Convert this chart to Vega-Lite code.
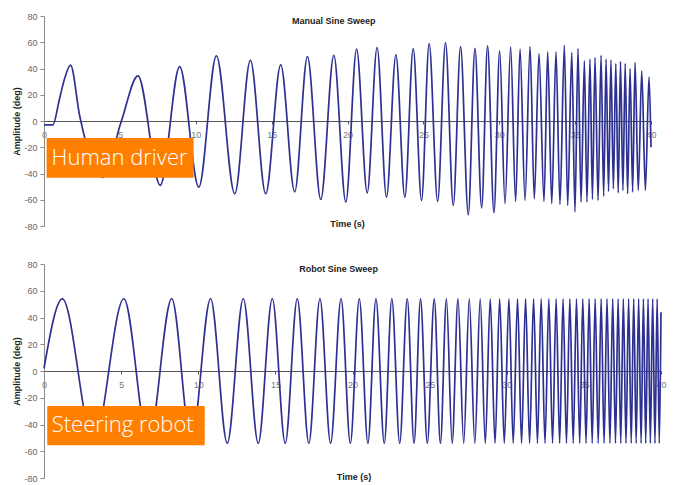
{
  "$schema": "https://vega.github.io/schema/vega-lite/v6.json",
  "background": "white",
  "padding": {"left": 12, "top": 12, "right": 5, "bottom": 2},
  "spacing": 38,
  "bounds": "flush",
  "config": {
    "view": {"stroke": null},
    "font": "Liberation Sans",
    "axisY": {
      "grid": false,
      "domainColor": "#8a8a8a",
      "tickColor": "#8a8a8a",
      "tickSize": 4,
      "labelColor": "#666666",
      "labelFontSize": 9,
      "labelPadding": 3,
      "titleFontSize": 9,
      "titleFontWeight": "bold",
      "titleColor": "#222222",
      "titlePadding": 2
    },
    "axisX": {
      "grid": false,
      "domainColor": "#555555",
      "tickColor": "#555555",
      "tickSize": 3,
      "labelColor": "#777777",
      "labelFontSize": 9,
      "labelPadding": 6,
      "labelFlush": false
    }
  },
  "datasets": {
    "human": [
      {"t": 0, "v": -3}, {"t": 0.58, "v": -3}, {"t": 1.02, "v": 16.7}, {"t": 1.35, "v": 32}, {"t": 1.75, "v": 42.5},
      {"t": 2.35, "v": 4}, {"t": 3.86, "v": -43}, {"t": 5.1, "v": 0}, {"t": 6.19, "v": 34.4}, {"t": 7.66, "v": -49},
      {"t": 8.94, "v": 41.5}, {"t": 10.2, "v": -50.4}, {"t": 11.36, "v": 49.6}, {"t": 12.57, "v": -55.4}, {"t": 13.6, "v": 46.3},
      {"t": 14.61, "v": -55.4}, {"t": 15.6, "v": 42.8}, {"t": 16.52, "v": -54}, {"t": 17.36, "v": 49}, {"t": 18.24, "v": -59.7},
      {"t": 19.1, "v": 50}, {"t": 19.89, "v": -61.7}, {"t": 20.6, "v": 54.7}, {"t": 21.3, "v": -54.7}, {"t": 21.95, "v": 56},
      {"t": 22.57, "v": -58}, {"t": 23.19, "v": 50.4}, {"t": 23.78, "v": -58}, {"t": 24.33, "v": 55.2}, {"t": 24.88, "v": -60.5},
      {"t": 25.38, "v": 59}, {"t": 25.94, "v": -61.3}, {"t": 26.46, "v": 59.8}, {"t": 26.97, "v": -64.3}, {"t": 27.45, "v": 56.7},
      {"t": 27.96, "v": -71.4}, {"t": 28.4, "v": 55.4}, {"t": 28.84, "v": -66.3}, {"t": 29.23, "v": 57.2}, {"t": 29.65, "v": -69.9},
      {"t": 30.03, "v": 53.4}, {"t": 30.38, "v": -63}, {"t": 30.75, "v": 56.4}, {"t": 31.08, "v": -61.3}, {"t": 31.37, "v": 54.7},
      {"t": 31.7, "v": -60.5}, {"t": 32.03, "v": 56.7}, {"t": 32.31, "v": -59.2}, {"t": 32.62, "v": 51.4}, {"t": 32.95, "v": -61.3},
      {"t": 33.19, "v": 52.6}, {"t": 33.46, "v": -63}, {"t": 33.74, "v": 52.6}, {"t": 34.0, "v": -63.5}, {"t": 34.29, "v": 57.7},
      {"t": 34.51, "v": -64.3}, {"t": 34.78, "v": 52.2}, {"t": 34.99, "v": -69.3}, {"t": 35.19, "v": 55.2}, {"t": 35.39, "v": -61.7},
      {"t": 35.61, "v": 45.8}, {"t": 35.78, "v": -61.7}, {"t": 35.98, "v": 47.1}, {"t": 36.14, "v": -59.7}, {"t": 36.31, "v": 48.4},
      {"t": 36.51, "v": -60.5}, {"t": 36.71, "v": 50.1}, {"t": 36.88, "v": -57.2}, {"t": 37.04, "v": 47.1}, {"t": 37.2, "v": -53.7},
      {"t": 37.36, "v": 46.5}, {"t": 37.52, "v": -51.6}, {"t": 37.68, "v": 43.8}, {"t": 37.84, "v": -54.7}, {"t": 37.99, "v": 45.3},
      {"t": 38.15, "v": -52.9}, {"t": 38.3, "v": 43.8}, {"t": 38.46, "v": -55.4}, {"t": 38.62, "v": 40}, {"t": 38.79, "v": -54.1},
      {"t": 38.95, "v": 44.6}, {"t": 39.16, "v": -52.9}, {"t": 39.39, "v": 38.2}, {"t": 39.63, "v": -52.9}, {"t": 39.87, "v": 33.6},
      {"t": 40, "v": -20}
    ],
    "robot": [
      {"t": 0, "v": 2}, {"t": 1.19, "v": 54}, {"t": 3.22, "v": -54}, {"t": 5.18, "v": 54}, {"t": 6.77, "v": -54},
      {"t": 8.28, "v": 54}, {"t": 9.55, "v": -54}, {"t": 10.8, "v": 54}, {"t": 11.88, "v": -54}, {"t": 12.92, "v": 54},
      {"t": 13.89, "v": -54}, {"t": 14.8, "v": 54}, {"t": 15.64, "v": -54}, {"t": 16.42, "v": 54}, {"t": 17.17, "v": -54},
      {"t": 17.89, "v": 54}, {"t": 18.58, "v": -54}, {"t": 19.26, "v": 54}, {"t": 19.86, "v": -54}, {"t": 20.44, "v": 54},
      {"t": 21.0, "v": -54}, {"t": 21.52, "v": 54}, {"t": 22.06, "v": -54}, {"t": 22.55, "v": 54}, {"t": 23.06, "v": -54},
      {"t": 23.55, "v": 54}, {"t": 23.99, "v": -54}, {"t": 24.41, "v": 54}, {"t": 24.85, "v": -54}, {"t": 25.3, "v": 54},
      {"t": 25.7, "v": -54}, {"t": 26.09, "v": 54}, {"t": 26.46, "v": -54}, {"t": 26.84, "v": 54}, {"t": 27.21, "v": -54},
      {"t": 27.57, "v": 54}, {"t": 27.93, "v": -54}, {"t": 28.28, "v": 54}, {"t": 28.61, "v": -54}, {"t": 28.93, "v": 54},
      {"t": 29.24, "v": -54}, {"t": 29.54, "v": 54}, {"t": 29.84, "v": -54}, {"t": 30.14, "v": 54}, {"t": 30.42, "v": -54},
      {"t": 30.7, "v": 54}, {"t": 30.96, "v": -54}, {"t": 31.22, "v": 54}, {"t": 31.48, "v": -54}, {"t": 31.74, "v": 54},
      {"t": 31.99, "v": -54}, {"t": 32.23, "v": 54}, {"t": 32.48, "v": -54}, {"t": 32.73, "v": 54}, {"t": 32.97, "v": -54},
      {"t": 33.2, "v": 54}, {"t": 33.43, "v": -54}, {"t": 33.65, "v": 54}, {"t": 33.87, "v": -54}, {"t": 34.09, "v": 54},
      {"t": 34.31, "v": -54}, {"t": 34.52, "v": 54}, {"t": 34.73, "v": -54}, {"t": 34.93, "v": 54}, {"t": 35.14, "v": -54},
      {"t": 35.34, "v": 54}, {"t": 35.54, "v": -54}, {"t": 35.73, "v": 54}, {"t": 35.93, "v": -54}, {"t": 36.12, "v": 54},
      {"t": 36.31, "v": -54}, {"t": 36.5, "v": 54}, {"t": 36.69, "v": -54}, {"t": 36.87, "v": 54}, {"t": 37.05, "v": -54},
      {"t": 37.22, "v": 54}, {"t": 37.39, "v": -54}, {"t": 37.56, "v": 54}, {"t": 37.73, "v": -54}, {"t": 37.9, "v": 54},
      {"t": 38.07, "v": -54}, {"t": 38.23, "v": 54}, {"t": 38.39, "v": -54}, {"t": 38.55, "v": 54}, {"t": 38.71, "v": -54},
      {"t": 38.86, "v": 54}, {"t": 39.01, "v": -54}, {"t": 39.16, "v": 54}, {"t": 39.31, "v": -54}, {"t": 39.46, "v": 54},
      {"t": 39.61, "v": -54}, {"t": 39.75, "v": 54}, {"t": 39.89, "v": -54}, {"t": 40, "v": 44}
    ]
  },
  "vconcat": [
    {
      "width": 607,
      "height": 210,
      "encoding": {
        "x": {"type": "quantitative", "scale": {"domain": [0, 40], "nice": false, "zero": false},
              "axis": {"offset": -105, "values": [0, 5, 10, 15, 20, 25, 30, 35, 40], "title": null}},
        "y": {"type": "quantitative", "scale": {"domain": [-80, 80], "nice": false},
              "axis": {"values": [-80, -60, -40, -20, 0, 20, 40, 60, 80], "title": "Amplitude (deg)",
                       "labelExpr": "datum.value < 0 ? '-' + abs(datum.value) : '' + datum.value"}}
      },
      "layer": [
        {
          "data": {"name": "human"},
          "mark": {"type": "line", "interpolate": "monotone", "color": "#2e3192", "strokeWidth": 1.7},
          "encoding": {"x": {"field": "t"}, "y": {"field": "v"}}
        },
        {
          "data": {"values": [{}]},
          "mark": {"type": "rect", "color": "#ff8000", "opacity": 1},
          "encoding": {"x": {"datum": 0.17}, "x2": {"datum": 9.86}, "y": {"datum": -12.9}, "y2": {"datum": -43.3}}
        },
        {
          "data": {"values": [{}]},
          "mark": {"type": "text", "align": "left", "baseline": "middle", "font": "Open Sans", "fontWeight": 300, "fontSize": 22, "color": "white"},
          "encoding": {"x": {"datum": 0.5}, "y": {"datum": -28.1}, "text": {"value": "Human driver"}}
        },
        {
          "data": {"values": [{}]},
          "mark": {"type": "text", "align": "center", "baseline": "middle", "fontWeight": "bold", "fontSize": 9, "color": "#222222"},
          "encoding": {"x": {"datum": 19.1}, "y": {"datum": 76.5}, "text": {"value": "Manual Sine Sweep"}}
        },
        {
          "data": {"values": [{}]},
          "mark": {"type": "text", "align": "center", "baseline": "middle", "fontWeight": "bold", "fontSize": 9, "color": "#222222"},
          "encoding": {"x": {"datum": 20}, "y": {"datum": -78.5}, "text": {"value": "Time (s)"}}
        }
      ]
    },
    {
      "width": 617,
      "height": 214,
      "encoding": {
        "x": {"type": "quantitative", "scale": {"domain": [0, 40], "nice": false, "zero": false},
              "axis": {"offset": -107, "values": [0, 5, 10, 15, 20, 25, 30, 35, 40], "title": null}},
        "y": {"type": "quantitative", "scale": {"domain": [-80, 80], "nice": false},
              "axis": {"values": [-80, -60, -40, -20, 0, 20, 40, 60, 80], "title": "Amplitude (deg)",
                       "labelExpr": "datum.value < 0 ? '-' + abs(datum.value) : '' + datum.value"}}
      },
      "layer": [
        {
          "data": {"name": "robot"},
          "mark": {"type": "line", "interpolate": "monotone", "color": "#2e3192", "strokeWidth": 1.7},
          "encoding": {"x": {"field": "t"}, "y": {"field": "v"}}
        },
        {
          "data": {"values": [{}]},
          "mark": {"type": "rect", "color": "#ff8000", "opacity": 1},
          "encoding": {"x": {"datum": 0.21}, "x2": {"datum": 10.42}, "y": {"datum": -26.2}, "y2": {"datum": -55.6}}
        },
        {
          "data": {"values": [{}]},
          "mark": {"type": "text", "align": "left", "baseline": "middle", "font": "Open Sans", "fontWeight": 300, "fontSize": 22, "color": "white"},
          "encoding": {"x": {"datum": 0.5}, "y": {"datum": -40.1}, "text": {"value": "Steering robot"}}
        },
        {
          "data": {"values": [{}]},
          "mark": {"type": "text", "align": "center", "baseline": "middle", "fontWeight": "bold", "fontSize": 9, "color": "#222222"},
          "encoding": {"x": {"datum": 19.1}, "y": {"datum": 76.5}, "text": {"value": "Robot Sine Sweep"}}
        },
        {
          "data": {"values": [{}]},
          "mark": {"type": "text", "align": "center", "baseline": "middle", "fontWeight": "bold", "fontSize": 9, "color": "#222222"},
          "encoding": {"x": {"datum": 20.1}, "y": {"datum": -79}, "text": {"value": "Time (s)"}}
        }
      ]
    }
  ]
}
